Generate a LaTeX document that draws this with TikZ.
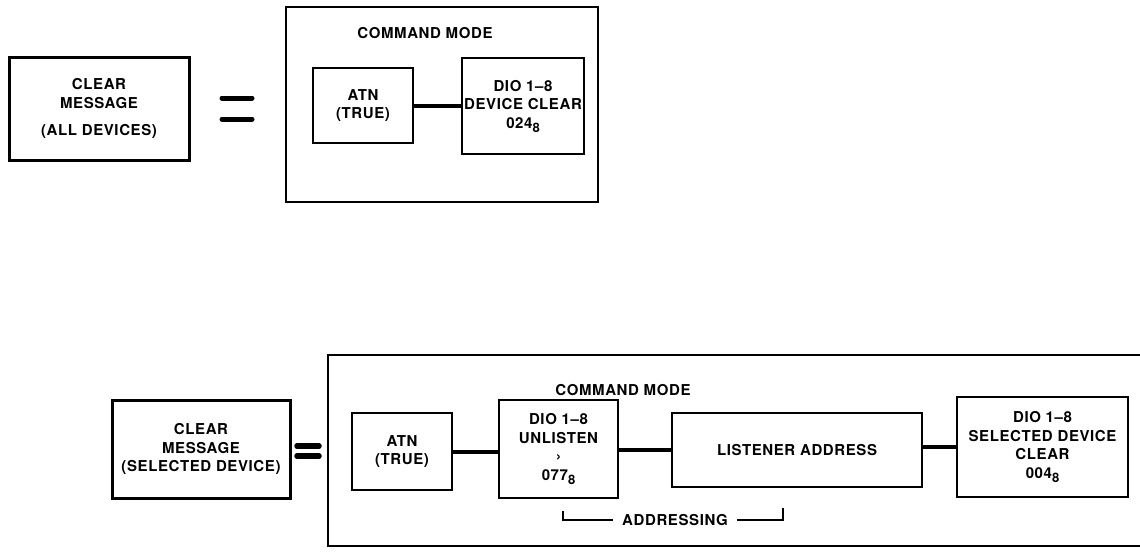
\documentclass[tikz,border=0pt]{standalone}
\usepackage{fontspec}
\setmainfont{TeX Gyre Heros}
\newfontfamily\lblfamily[LetterSpace=4]{TeX Gyre Heros}
\newcommand{\lblfont}{\lblfamily\fontsize{15}{18.5}\selectfont\bfseries}
\newcommand{\sbeight}{\raisebox{-4pt}{\lblfamily\bfseries\fontsize{13}{13}\selectfont 8}}
\tikzset{
  unit/.style={x=1pt,y=-1pt},
  msgbox/.style={draw, line width=3pt, align=center, inner sep=0pt, font=\lblfont},
  cmdbox/.style={draw, line width=2.6pt, inner sep=0pt},
  inbox/.style={draw, line width=2.2pt, align=center, inner sep=0pt, font=\lblfont},
  link/.style={line width=4pt},
  eqbar/.style={line width=5pt, line cap=round},
  brk/.style={line width=1.5pt},
  plain/.style={font=\lblfont, inner sep=0pt}
}
\begin{document}
\begin{tikzpicture}[unit]
\clip (0,0) rectangle (1140,552);
\fill[white] (0,0) rectangle (1140,552);

% ---------- top: all devices ----------
\node[msgbox, minimum width=180pt, minimum height=103pt] (msgA) at (99,108.5)
  {CLEAR\\MESSAGE\\[9pt](ALL DEVICES)};
\coordinate (eqA1l) at (222,98);  \coordinate (eqA1r) at (252,98);
\coordinate (eqA2l) at (222,119); \coordinate (eqA2r) at (252,119);
\draw[eqbar] (eqA1l) -- (eqA1r);
\draw[eqbar] (eqA2l) -- (eqA2r);

\node[cmdbox, minimum width=312pt, minimum height=195pt] (cmdA) at (442,104.5) {};
\node[plain] (cmdAlbl) at (425,33) {COMMAND MODE};
\node[inbox, minimum width=100pt, minimum height=75pt] (atnA) at (363,105.5)
  {ATN\\(TRUE)};
\node[inbox, minimum width=122pt, minimum height=96pt] (dioA) at (523,106)
  {DIO 1–8\\DEVICE CLEAR\\024\sbeight};
\draw[link] (atnA.east) -- (dioA.west |- atnA.east);

% ---------- bottom: selected device ----------
\node[msgbox, minimum width=178pt, minimum height=98pt] (msgB) at (201,449)
  {CLEAR\\MESSAGE\\(SELECTED DEVICE)};
\coordinate (eqB1l) at (297,446); \coordinate (eqB1r) at (319,446);
\coordinate (eqB2l) at (297,456); \coordinate (eqB2r) at (319,456);
\draw[eqbar, line width=5.5pt] (eqB1l) -- (eqB1r);
\draw[eqbar, line width=5.5pt] (eqB2l) -- (eqB2r);

\coordinate (cmdBtl) at (328,355);
\coordinate (cmdBbr) at (1160,546);
\draw[cmdbox] (cmdBtl) rectangle (cmdBbr);
\node[plain] (cmdBlbl) at (623,390) {COMMAND MODE};

\node[inbox, minimum width=100pt, minimum height=77pt] (atnB) at (402,451.5)
  {ATN\\(TRUE)};
\node[inbox, minimum width=119pt, minimum height=98pt] (unlB) at (558.5,449)
  {DIO 1–8\\UNLISTEN\\›\\077\sbeight};
\node[inbox, minimum width=250pt, minimum height=74pt] (lisB) at (797,450)
  {LISTENER ADDRESS};
\node[inbox, minimum width=171pt, minimum height=100pt] (selB) at (1042.5,447)
  {DIO 1–8\\SELECTED DEVICE\\CLEAR\\004\sbeight};

\draw[link] (atnB.east) -- (unlB.west |- atnB.east);
\draw[link] (unlB.east |- lisB.west) -- (lisB.west);
\draw[link] (lisB.east |- selB.west) -- (selB.west);

% addressing bracket
\node[plain] (addr) at (675,520) {ADDRESSING};
\coordinate (brL) at (563,511);
\coordinate (brR) at (783,508);
\draw[brk] (brL) -- (brL |- addr.center) -- ([xshift=-9pt]addr.west);
\draw[brk] ([xshift=9pt]addr.east) -- (brR |- addr.center) -- (brR);
\end{tikzpicture}
\end{document}
